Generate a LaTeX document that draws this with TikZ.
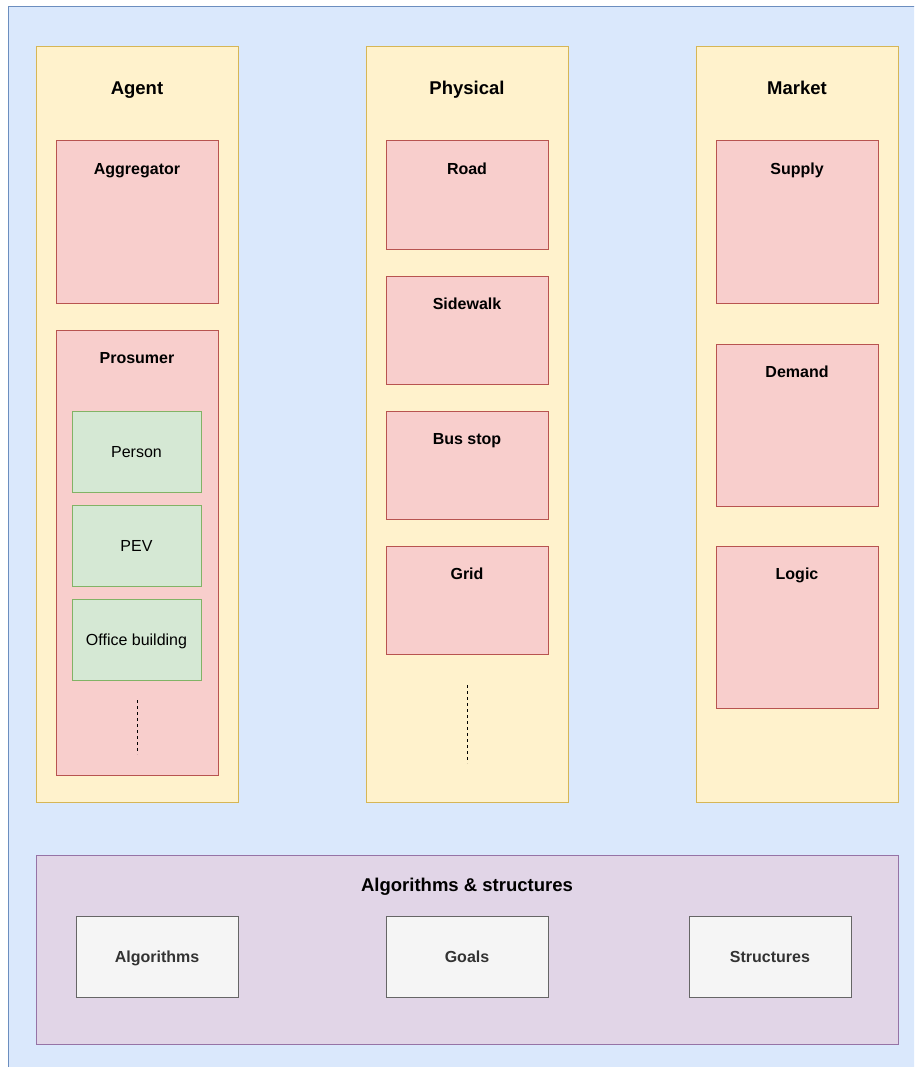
\documentclass[tikz,border=0pt]{standalone}
\usepackage{fontspec}
\setmainfont{Liberation Sans}
\definecolor{bgfill}{HTML}{DAE8FC}
\definecolor{bgdraw}{HTML}{6C8EBF}
\definecolor{yfill}{HTML}{FFF2CC}
\definecolor{ydraw}{HTML}{D6B656}
\definecolor{rfill}{HTML}{F8CECC}
\definecolor{rdraw}{HTML}{B85450}
\definecolor{gfill}{HTML}{D5E8D4}
\definecolor{gdraw}{HTML}{82B366}
\definecolor{pfill}{HTML}{E1D5E7}
\definecolor{pdraw}{HTML}{9673A6}
\definecolor{wfill}{HTML}{F5F5F5}
\definecolor{wdraw}{HTML}{666666}
\definecolor{wtext}{HTML}{333333}
\begin{document}
\begin{tikzpicture}[x=1pt,y=-1pt,
  base/.style={rectangle, inner sep=0pt, outer sep=0pt, line width=1pt, anchor=north west},
  colbox/.style={base, fill=yfill, draw=ydraw, minimum width=202pt, minimum height=755pt},
  redbox/.style={base, fill=rfill, draw=rdraw, minimum width=162pt},
  greenbox/.style={base, fill=gfill, draw=gdraw, minimum width=129pt, minimum height=81pt, anchor=center, text height=11.5pt, text depth=0pt, font=\fontsize{16}{18}\selectfont},
  graybox/.style={base, fill=wfill, draw=wdraw, minimum width=162pt, minimum height=81pt, anchor=center, text height=11.5pt, text depth=0pt, text=wtext, font=\fontsize{16}{18}\selectfont\bfseries},
  title/.style={font=\fontsize{18.5}{20}\selectfont\bfseries, inner sep=0pt, anchor=base},
  subtitle/.style={font=\fontsize{16}{18}\selectfont\bfseries, inner sep=0pt, anchor=base},
  dots/.style={line width=1pt, dash pattern=on 3pt off 3pt}
]
\clip (0,0) rectangle (914,1067);
\fill[white] (0,0) rectangle (914,1067);
\draw[fill=bgfill, draw=bgdraw, line width=1pt] (8,6.5) rectangle (940,1090);

% columns
\node[colbox] (agent) at (36,47) {};
\node[colbox] (physical) at (366,47) {};
\node[colbox] (market) at (696,47) {};
\node[title] (agentT) at ([yshift=-48pt]agent.north) {Agent};
\node[title] (physicalT) at ([yshift=-48pt]physical.north) {Physical};
\node[title] (marketT) at ([yshift=-48pt]market.north) {Market};

% Agent column
\node[redbox, minimum height=162pt] (aggr) at (56,141) {};
\node[subtitle] (aggrT) at ([yshift=-33.5pt]aggr.north) {Aggregator};
\node[redbox, minimum height=445pt] (pros) at (56,330) {};
\node[subtitle] (prosT) at ([yshift=-33pt]pros.north) {Prosumer};
\node[greenbox] (person) at (136.5,451.5) {Person};
\node[greenbox] (pev) at (136.5,545.5) {PEV};
\node[greenbox] (office) at (136.5,639.5) {Office building};
\coordinate (d1a) at (137,700);
\coordinate (d1b) at (137,754);
\draw[dots] (d1a) -- (d1b);

% Physical column
\node[redbox, minimum height=108pt] (road) at (386,141) {};
\node[subtitle] (roadT) at ([yshift=-33.5pt]road.north) {Road};
\node[redbox, minimum height=108pt] (side) at (386,276) {};
\node[subtitle] (sideT) at ([yshift=-33pt]side.north) {Sidewalk};
\node[redbox, minimum height=108pt] (bus) at (386,411) {};
\node[subtitle] (busT) at ([yshift=-33pt]bus.north) {Bus stop};
\node[redbox, minimum height=108pt] (grid) at (386,546) {};
\node[subtitle] (gridT) at ([yshift=-33pt]grid.north) {Grid};
\coordinate (d2a) at (467,685);
\coordinate (d2b) at (467,763);
\draw[dots] (d2a) -- (d2b);

% Market column
\node[redbox, minimum height=162pt] (supply) at (716,141) {};
\node[subtitle] (supplyT) at ([yshift=-33.5pt]supply.north) {Supply};
\node[redbox, minimum height=162pt] (demand) at (716,344) {};
\node[subtitle] (demandT) at ([yshift=-33pt]demand.north) {Demand};
\node[redbox, minimum height=162pt] (logic) at (716,546) {};
\node[subtitle] (logicT) at ([yshift=-33pt]logic.north) {Logic};

% Bottom
\node[base, fill=pfill, draw=pdraw, minimum width=862pt, minimum height=189pt] (algs) at (36,855) {};
\node[title] (algsT) at ([yshift=-36pt]algs.north) {Algorithms \& structures};
\node[graybox] (alg) at (157,956.5) {Algorithms};
\node[graybox] (goals) at (467,956.5) {Goals};
\node[graybox] (struct) at (770,956.5) {Structures};
\end{tikzpicture}
\end{document}
